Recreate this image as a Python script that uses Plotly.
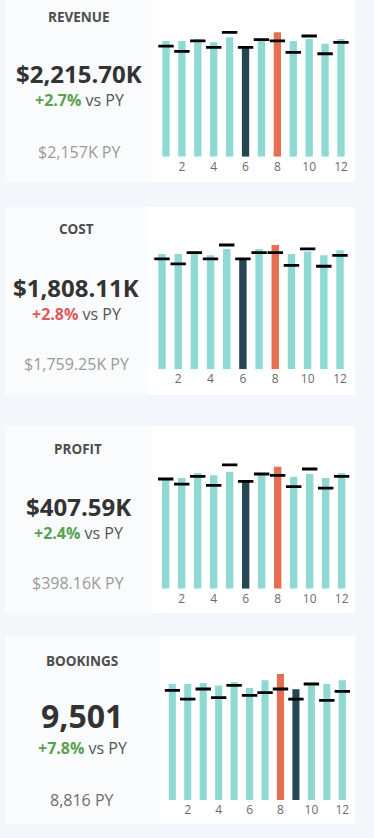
import plotly.graph_objects as go

# ---------------- data ----------------
months = list(range(1, 13))
tick_vals = [2, 4, 6, 8, 10, 12]
tick_text = ["2", "4", "6", "8", "10", "12"]

revenue_cy = [183.2, 183.2, 186.3, 181.1, 189.0, 173.2, 187.4, 196.9, 183.2, 186.3, 178.9, 186.3]
revenue_py = [175.2, 166.8, 183.2, 173.2, 196.9, 173.2, 185.2, 183.2, 165.3, 191.1, 163.0, 181.1]

cost_cy = [148.5, 148.5, 151.6, 146.8, 155.0, 142.1, 155.0, 160.1, 148.5, 151.6, 146.8, 153.3]
cost_py = [142.1, 135.7, 150.3, 142.1, 160.1, 142.1, 150.3, 150.3, 133.9, 155.0, 132.7, 146.8]

profit_cy = [33.0, 33.1, 34.6, 33.9, 35.0, 32.0, 34.2, 36.5, 33.5, 34.3, 33.1, 34.6]
profit_py = [32.8, 31.3, 33.6, 30.9, 37.0, 32.1, 34.3, 33.9, 30.5, 35.8, 30.1, 33.6]

bookings_cy = [787, 787, 794, 776, 801, 760, 812, 855, 751, 778, 787, 813]
bookings_py = [744, 685, 753, 694, 778, 710, 728, 753, 685, 787, 676, 737]

titles = ["REVENUE", "COST", "PROFIT", "BOOKINGS"]
totals = ["$2,215.70K", "$1,808.11K", "$407.59K", "9,501"]
changes = ["+2.7%", "+2.8%", "+2.4%", "+7.8%"]
change_good = [True, False, True, True]
py_labels = ["$2,157K PY", "$1,759.25K PY", "$398.16K PY", "8,816 PY"]

series_cy = [revenue_cy, cost_cy, profit_cy, bookings_cy]
series_py = [revenue_py, cost_py, profit_py, bookings_py]

# ---------------- style / layout ----------------
W, H = 374, 838
PAGE_BG = "#f3f6fa"
PANEL_BG = "#f9fbfd"
TEAL = "#8ed9d3"
DARK = "#264653"
ORANGE = "#e76f51"
GREEN = "#59a14f"
RED = "#e15759"
FONT = "Open Sans"

cards = [
    dict(top=0, bottom=182, split=153, base=156.7, ppu=0.6317, x1=166.0, x12=341.0,
         cx=79, title_y=17.3, total_y=74, change_y=100, py_y=152, total_size=24, py_color="#9a9a9a"),
    dict(top=207, bottom=395, split=148, base=369.3, ppu=0.7764, x1=162.0, x12=340.0,
         cx=76, title_y=229, total_y=287.3, change_y=314.3, py_y=364.3, total_size=24, py_color="#9a9a9a"),
    dict(top=426, bottom=613, split=152, base=588.7, ppu=3.344, x1=165.7, x12=341.7,
         cx=78, title_y=449.3, total_y=506.7, change_y=532.7, py_y=583.3, total_size=24, py_color="#9a9a9a"),
    dict(top=636, bottom=824, split=159, base=800.0, ppu=0.1474, x1=172.3, x12=342.3,
         cx=82, title_y=661, total_y=715, change_y=747.7, py_y=800, total_size=32, py_color="#6e6e6e"),
]


def px_to_py(y):
    return 1 - y / H


fig = go.Figure()
shapes = []
annotations = []

for i, c in enumerate(cards):
    n = "" if i == 0 else str(i + 1)
    xa, ya = "x" + n, "y" + n
    cy, py = series_cy[i], series_py[i]
    vmax, vmin = max(cy), min(cy)
    colors = [ORANGE if v == vmax else (DARK if v == vmin else TEAL) for v in cy]

    fig.add_trace(go.Bar(x=months, y=cy, marker=dict(color=colors, line=dict(width=0)),
                         width=0.46, xaxis=xa, yaxis=ya, hoverinfo="skip", showlegend=False))
    fig.add_trace(go.Scatter(x=months, y=py, mode="markers",
                             marker=dict(symbol="line-ew", size=11, line=dict(width=2.8, color="#000000")),
                             xaxis=xa, yaxis=ya, hoverinfo="skip", showlegend=False))

    s = (c["x12"] - c["x1"]) / 11
    d0 = (c["x1"] - 0.5 * s) / W
    d1 = (c["x12"] + 0.5 * s) / W
    plot_top = c["top"] + 8
    ymax = (c["base"] - plot_top) / c["ppu"]

    fig.update_layout(**{
        ("xaxis" + n): dict(domain=[d0, d1], range=[0.5, 12.5], anchor=ya,
                            tickvals=tick_vals, ticktext=tick_text, ticks="",
                            showgrid=False, zeroline=False, showline=False,
                            tickfont=dict(family=FONT, size=12, color="#6b6b6b"),
                            ticklabelstandoff=1, fixedrange=True),
        ("yaxis" + n): dict(domain=[px_to_py(c["base"]), px_to_py(plot_top)], range=[0, ymax],
                            anchor=xa, showticklabels=False, ticks="", showgrid=False,
                            zeroline=False, showline=False, fixedrange=True),
    })

    # backgrounds
    shapes.append(dict(type="rect", xref="paper", yref="paper", layer="below",
                       x0=5 / W, x1=c["split"] / W, y0=px_to_py(c["bottom"]), y1=px_to_py(c["top"]),
                       fillcolor=PANEL_BG, line=dict(width=0)))
    shapes.append(dict(type="rect", xref="paper", yref="paper", layer="below",
                       x0=c["split"] / W, x1=355 / W, y0=px_to_py(c["bottom"]), y1=px_to_py(c["top"]),
                       fillcolor="#ffffff", line=dict(width=0)))

    cx = c["cx"] / W
    annotations.append(dict(x=cx, y=px_to_py(c["title_y"]), xref="paper", yref="paper",
                            text="<b>" + titles[i] + "</b>", showarrow=False, xanchor="center", yanchor="middle",
                            font=dict(family=FONT, size=13.5, color="#4d4d4d")))
    annotations.append(dict(x=cx, y=px_to_py(c["total_y"]), xref="paper", yref="paper",
                            text="<b>" + totals[i] + "</b>", showarrow=False, xanchor="center", yanchor="middle",
                            font=dict(family=FONT, size=c["total_size"], color="#333333")))
    col = GREEN if change_good[i] else RED
    annotations.append(dict(x=cx, y=px_to_py(c["change_y"]), xref="paper", yref="paper",
                            text="<span style='color:%s'><b>%s</b></span> vs PY" % (col, changes[i]),
                            showarrow=False, xanchor="center", yanchor="middle",
                            font=dict(family=FONT, size=16, color="#555555")))
    annotations.append(dict(x=cx, y=px_to_py(c["py_y"]), xref="paper", yref="paper",
                            text=py_labels[i], showarrow=False, xanchor="center", yanchor="middle",
                            font=dict(family=FONT, size=16, color=c["py_color"])))

fig.update_layout(width=W, height=H, margin=dict(l=0, r=0, t=0, b=0),
                  paper_bgcolor=PAGE_BG, plot_bgcolor="rgba(0,0,0,0)",
                  shapes=shapes, annotations=annotations, showlegend=False,
                  bargap=0.5)

fig.write_html("out.html", config={"displayModeBar": False, "staticPlot": True},
               post_script="document.body.style.margin='0';document.body.style.background='%s';" % PAGE_BG)
